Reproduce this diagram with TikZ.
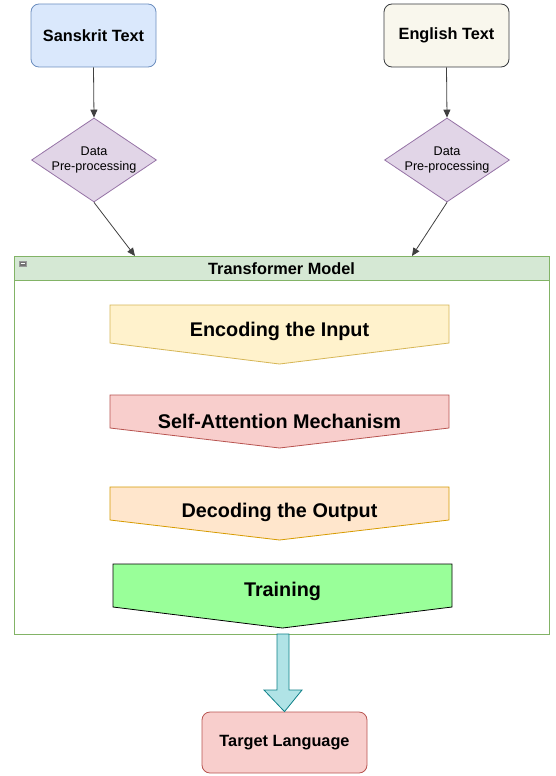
\documentclass[tikz,border=0pt]{standalone}
\usepackage{fontspec}
\setmainfont{Liberation Sans}
\usetikzlibrary{shapes.geometric,arrows.meta}
\definecolor{blueF}{HTML}{DAE8FC}\definecolor{blueS}{HTML}{6C8EBF}
\definecolor{creamF}{HTML}{F9F7ED}\definecolor{creamS}{HTML}{36393D}
\definecolor{purF}{HTML}{E1D5E7}\definecolor{purS}{HTML}{9673A6}
\definecolor{grnF}{HTML}{D5E8D4}\definecolor{grnS}{HTML}{82B366}
\definecolor{yelF}{HTML}{FFF2CC}\definecolor{yelS}{HTML}{D6B656}
\definecolor{redF}{HTML}{F8CECC}\definecolor{redS}{HTML}{B85450}
\definecolor{orF}{HTML}{FFE6CC}\definecolor{orS}{HTML}{D79B00}
\definecolor{trF}{HTML}{99FF99}
\definecolor{tealF}{HTML}{B0E3E6}\definecolor{tealS}{HTML}{0E8088}
\tikzset{
  x=1pt,y=-1pt,
  rbox/.style={rounded corners=8pt, line width=0.8pt, minimum width=125pt, minimum height=63pt, inner sep=0pt, font=\fontsize{16.3}{19}\selectfont\bfseries},
  dia/.style={diamond, aspect=1.49, fill=purF, draw=purS, line width=0.8pt, minimum width=125pt, minimum height=84pt, inner sep=0pt, align=center, font=\fontsize{12.6}{14.5}\selectfont},
  conn/.style={line width=0.8pt, draw=black!75, -{Triangle[length=8pt,width=7pt]}},
  steplbl/.style={font=\fontsize{19.8}{22}\selectfont\bfseries, inner sep=0pt},
  stepshape/.style={line width=0.8pt}
}
\begin{document}
\begin{tikzpicture}
\useasboundingbox (0,0) rectangle (556,776);
% inputs
\node[rbox, fill=blueF, draw=blueS] (sk) at (93.5,35.5) {Sanskrit Text};
\node[rbox, fill=creamF, draw=creamS] (en) at (446.5,35.5) {English Text};
\node[dia] (dl) at (94,160) {Data\\Pre-processing};
\node[dia] (dr) at (447,160) {Data\\Pre-processing};
% container
\draw[draw=grnS, fill=white, line width=0.8pt] (14,280) rectangle (549,634);
\draw[draw=grnS, fill=grnF, line width=0.8pt] (14,256) rectangle (549,280);
\node[font=\fontsize{16.3}{19}\selectfont\bfseries, inner sep=0pt] (tm) at (281.5,269) {Transformer Model};
\draw[fill=black!55, draw=black!40, line width=0.3pt] (19,261) rectangle (26,266);
\draw[white, line width=0.6pt] (20.5,263.5) -- (24.5,263.5);
\coordinate (c1) at (135,256);
\coordinate (c2) at (412,256);
% steps
\draw[stepshape, fill=yelF, draw=yelS] (110,305) -- (449,305) -- (449,343) -- (279.5,364) -- (110,343) -- cycle;
\node[steplbl] (s1) at (279.5,331) {Encoding the Input};
\draw[stepshape, fill=redF, draw=redS] (110,395) -- (449,395) -- (449,428) -- (279.5,448) -- (110,428) -- cycle;
\node[steplbl] (s2) at (279.5,421) {Self-Attention Mechanism};
\draw[stepshape, fill=orF, draw=orS] (110,487) -- (449,487) -- (449,520) -- (279.5,540) -- (110,520) -- cycle;
\node[steplbl] (s3) at (279.5,512) {Decoding the Output};
\draw[stepshape, fill=trF, draw=black] (113,564) -- (452,564) -- (452,607) -- (282.5,628) -- (113,607) -- cycle;
\node[steplbl] (s4) at (282.5,591) {Training};
% output
\node[rbox, fill=redF, draw=redS, minimum width=165pt, minimum height=61pt] (tl) at (284.5,742.5) {Target Language};
\draw[fill=tealF, draw=tealS, line width=0.8pt] (277,634) -- (289,634) -- (289,690) -- (302,690) -- (tl.north) -- (264,690) -- (277,690) -- cycle;
% connectors
\draw[conn] (sk.south) -- (dl.north);
\draw[conn] (en.south) -- (dr.north);
\draw[conn] (dl.south) -- (c1);
\draw[conn] (dr.south) -- (c2);
\end{tikzpicture}
\end{document}
